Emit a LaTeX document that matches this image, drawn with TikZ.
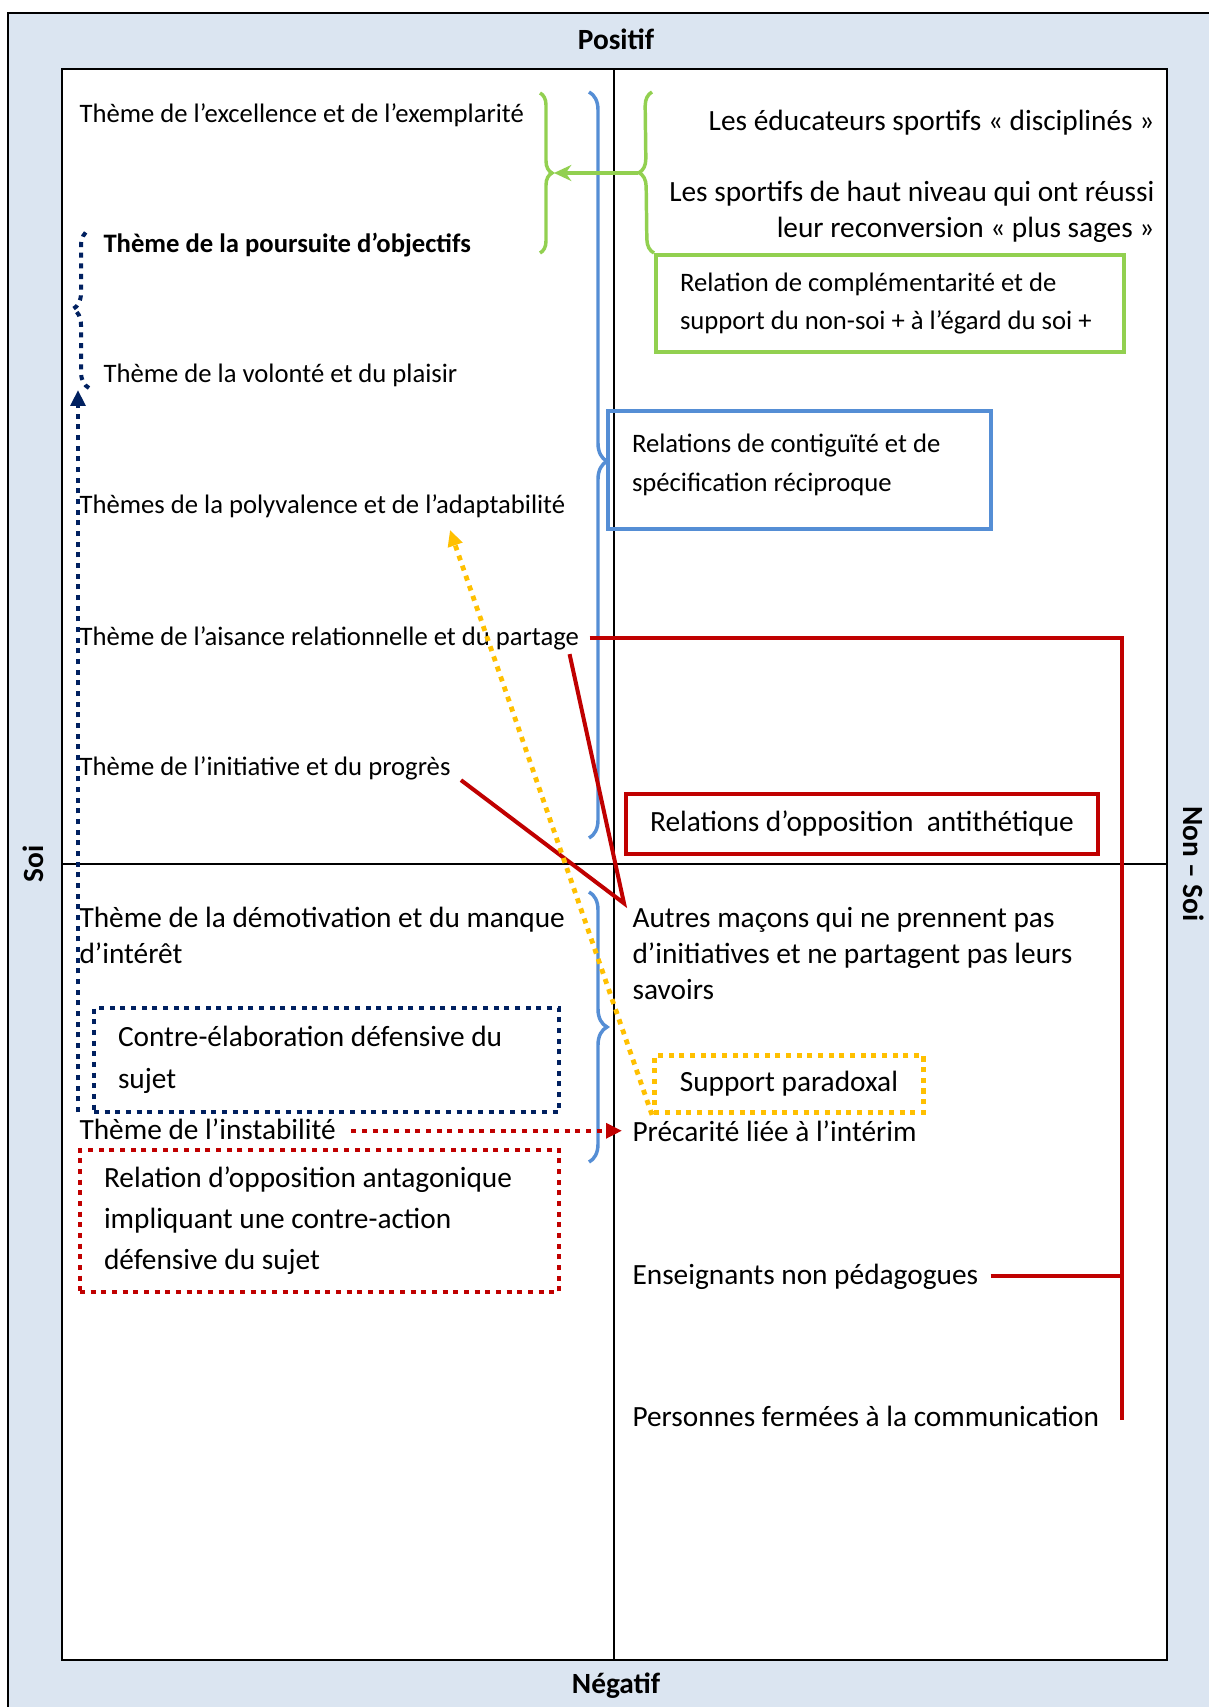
\documentclass[tikz,border=0pt]{standalone}
\usepackage{fontspec}
\setmainfont{Carlito}
\usetikzlibrary{arrows.meta,calc,positioning,decorations.pathreplacing}
\definecolor{FondBleu}{RGB}{219,229,241}
\definecolor{VertRel}{RGB}{146,208,80}
\definecolor{BleuRel}{RGB}{85,142,213}
\definecolor{RougeRel}{RGB}{192,0,0}
\definecolor{MarineRel}{RGB}{0,32,96}
\definecolor{JauneRel}{RGB}{255,192,0}

\begin{document}
\begin{tikzpicture}[x=0.375pt,y=-0.375pt,>={Triangle[length=6pt,width=5.5pt]},
    petit/.style={font=\fontsize{10}{12}\selectfont,inner sep=0pt,anchor=base west},
    grand/.style={font=\fontsize{11}{13.5}\selectfont,inner sep=0pt,anchor=base west,align=left},
    axe/.style={font=\fontsize{11}{13.5}\selectfont\bfseries,inner sep=0pt},
    cadre/.style={draw=#1,line width=1.5pt,inner xsep=9pt,inner ysep=0pt,anchor=north west,
      align=flush left},
    pointille/.style={line width=1.5pt,dash pattern=on 1.9pt off 2.1pt},
    accolade/.style={decorate,decoration={brace,amplitude=#1},line width=1.3pt},
    oppos/.style={RougeRel,line width=1.5pt}]
  \useasboundingbox (0,0) rectangle (1208,1707);
  % cadre
  \fill[FondBleu] (8,13) rectangle (1220,1720);
  \draw[line width=0.8pt] (8,1720) -- (8,13) -- (1220,13);
  \draw[line width=1.1pt,fill=white] (62,69) rectangle (1167,1660);
  \draw[line width=0.75pt] (614,69) -- (614,1660);
  \draw[line width=0.75pt] (62,864) -- (1167,864);
  \node[axe] (pos) at (616,39) {Positif};
  \node[axe] (neg) at (616,1686) {Négatif};
  \node[axe,rotate=90] (soi) at (33,864) {Soi};
  \node[axe,rotate=-90] (nonsoi) at (1194,864) {Non – Soi};

  % themes du soi
  \node[petit] (excel) at (79,123) {Thème de l’excellence et de l’exemplarité};
  \node[petit,font=\fontsize{10}{12}\selectfont\bfseries] (objectifs) at (103,253)
    {Thème de la poursuite d’objectifs};
  \node[petit] (volonte) at (103,383) {Thème de la volonté et du plaisir};
  \node[petit] (adapt) at (79,513) {Thèmes de la polyvalence et de l’adaptabilité};
  \node[petit] (partage) at (79,645) {Thème de l’aisance relationnelle et du partage};
  \node[petit] (progres) at (79,775) {Thème de l’initiative et du progrès};
  \node[grand] (demotiv) at (79,963) {Thème de la démotivation et du manque\\d’intérêt};
  \node[grand] (instab) at (79,1139) {Thème de l’instabilité};

  % non-soi
  \node[grand,anchor=base east] (educ) at (1155,131) {Les éducateurs sportifs « disciplinés »};
  \node[grand,anchor=base east,align=right] (sportifs) at (1155,238)
    {Les sportifs de haut niveau qui ont réussi\\leur reconversion « plus sages »};
  \node[grand] (autres) at (632,999)
    {Autres maçons qui ne prennent pas\\d’initiatives et ne partagent pas leurs\\savoirs};
  \node[grand] (precar) at (632,1141) {Précarité liée à l’intérim};
  \node[grand] (ensei) at (632,1284) {Enseignants non pédagogues};
  \node[grand] (fermees) at (632,1426) {Personnes fermées à la communication};

  % relations
  \node[cadre=VertRel,text width=157.5pt,minimum height=36.4pt,
    font=\fontsize{10}{14.25}\selectfont] (complem) at (654,253)
    {Relation de complémentarité et de\\support du non-soi + à l’égard du soi +};
  \node[cadre=BleuRel,text width=125.6pt,minimum height=44.25pt,
    font=\fontsize{10}{14.6}\selectfont] (contig) at (606,409)
    {Relations de contiguïté et de\\spécification réciproque\\[-9pt]\mbox{}};
  \node[cadre=RougeRel,align=center,minimum width=177pt,minimum height=22.5pt,
    font=\fontsize{11}{13.5}\selectfont] (antith) at (624,792)
    {Relations d’opposition~ antithétique};
  \node[cadre=MarineRel,pointille,text width=156.4pt,minimum height=39pt,
    font=\fontsize{11}{15.75}\selectfont] (contre) at (92,1006)
    {Contre-élaboration défensive du\\sujet};
  \node[cadre=RougeRel,pointille,text width=161.8pt,minimum height=53.25pt,
    font=\fontsize{11}{15.4}\selectfont] (antago) at (78,1148)
    {Relation d’opposition antagonique\\impliquant une contre-action\\défensive du sujet};
  \node[cadre=JauneRel,pointille,line width=1.8pt,align=center,minimum width=100.9pt,
    minimum height=21.4pt,font=\fontsize{11}{13.5}\selectfont] (paradoxe) at (652,1053)
    {Support paradoxal};

  % accolades
  \draw[VertRel,accolade=4.5pt] (540,93) -- (540,253);
  \draw[VertRel,accolade=5.25pt] (complem.north west) -- (652,92);
  \draw[BleuRel,accolade=6.75pt,decoration={aspect=0.495}] (589,92) -- (589,838);
  \draw[BleuRel,accolade=6.75pt] (589,892) -- (589,1162);
  \draw[MarineRel,accolade=6pt,pointille] (89,388) -- (89,230);
  \coordinate (vertG) at (554,173);
  \coordinate (vertD) at (638,173);
  \draw[VertRel,line width=1.5pt,-{Stealth[length=6.5pt,width=6pt]}] (vertD) -- (vertG);

  % connecteurs
  \coordinate (rbas) at (1122,1420);
  \coordinate (vpointe) at ($(autres.north west)+(-8,-3)$);
  \draw[oppos] ($(partage.east)+(10,0)$) -| (rbas);
  \draw[oppos] ($(ensei.east)+(12,0)$) -- (ensei.east -| rbas);
  \draw[oppos] ($(partage.south east)+(-10,4)$) -- (vpointe)
    -- ($(progres.south east)+(10,0)$);
  \coordinate (adtip) at (450,530);
  \draw[JauneRel,pointille,line width=1.8pt,->] (paradoxe.south west) -- (adtip);
  \coordinate (navytip) at (78,390);
  \draw[MarineRel,pointille,->] ($(contre.south west)+(-14,-2)$) -- (navytip);
  \draw[RougeRel,pointille,->]
    ($(instab.east)+(15,2)$) -- ($(precar.west)+(-10,0)$);
\end{tikzpicture}
\end{document}
